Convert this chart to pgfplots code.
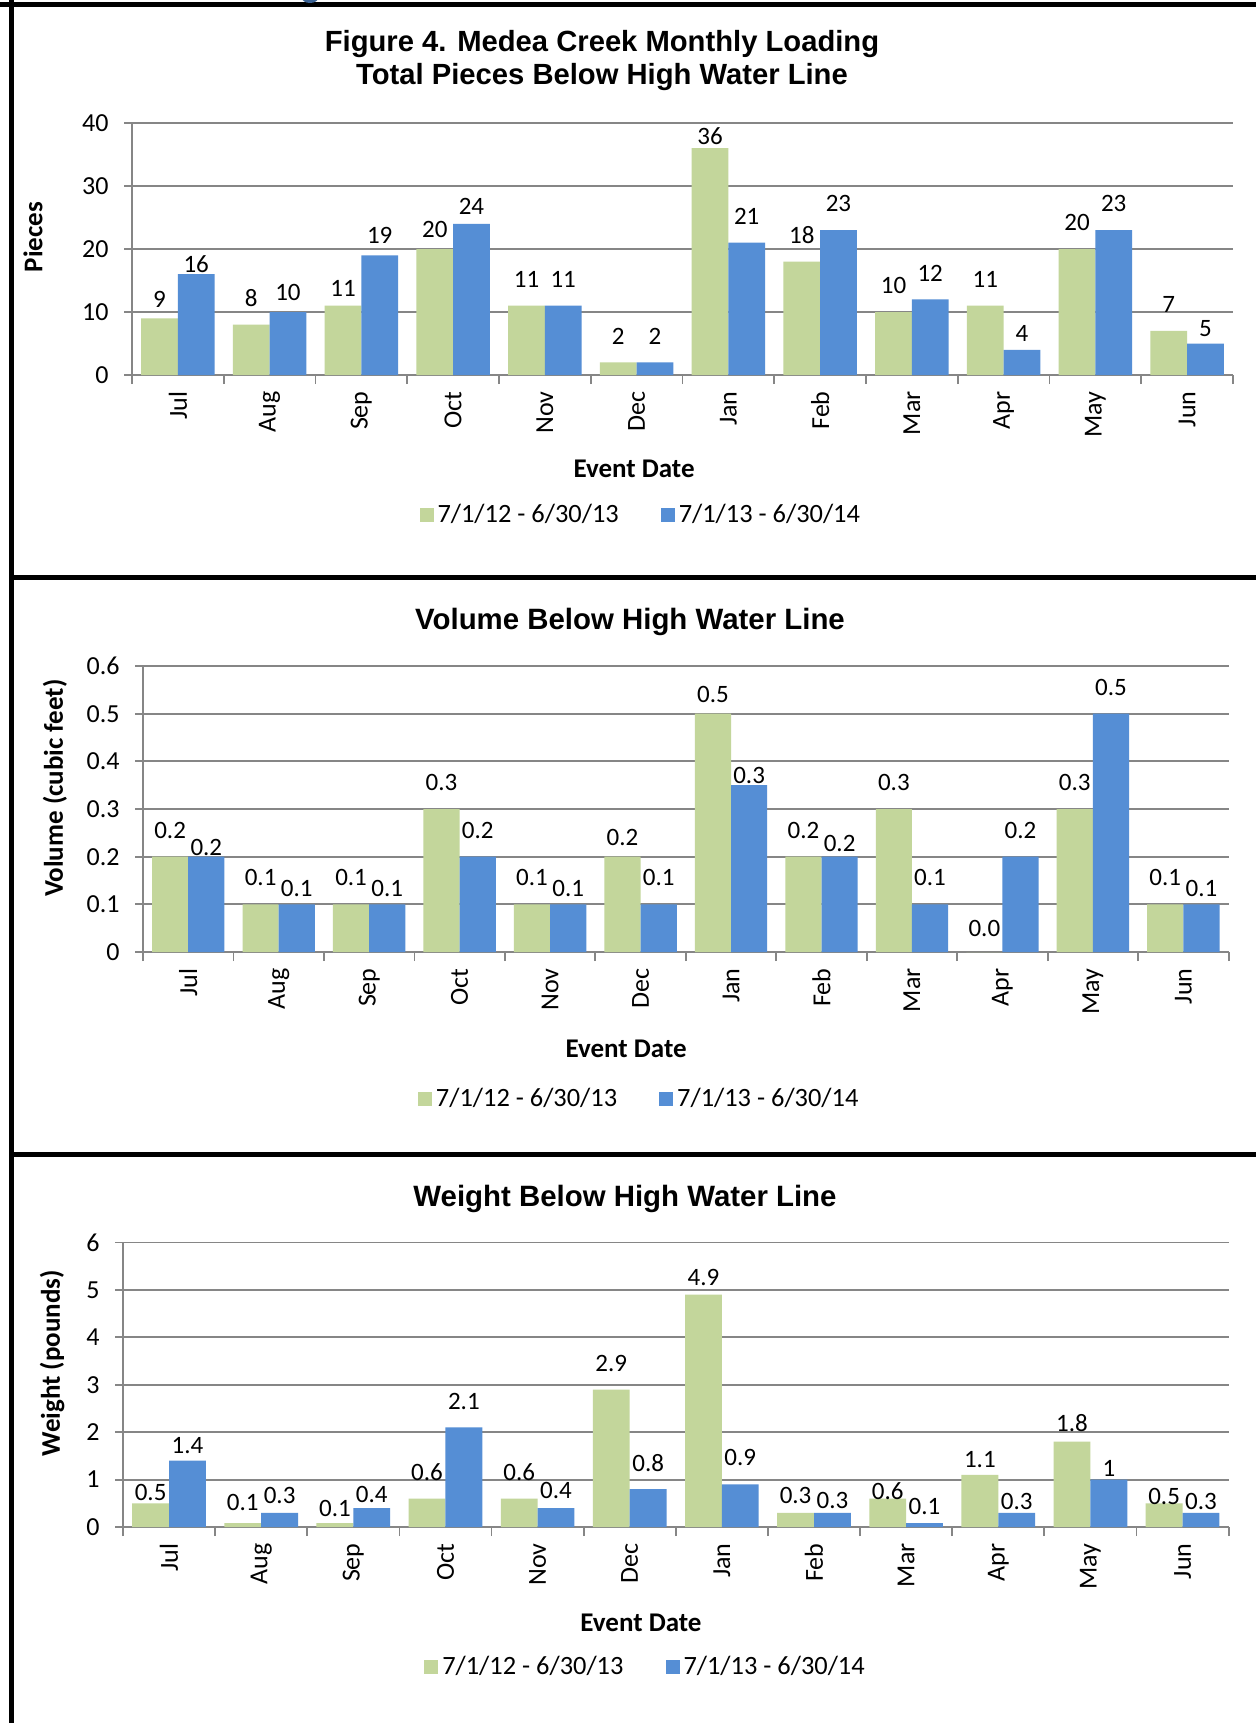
\documentclass[border=0pt]{standalone}
\usepackage{pgfplots}
\pgfplotsset{compat=1.18}
\usepackage{pgfplotstable}
\usepackage{fontspec}
\setmainfont{Carlito}
\newfontfamily\arialfont{Liberation Sans}
\definecolor{cgreen}{RGB}{195,214,155}
\definecolor{cblue}{RGB}{85,142,213}
\definecolor{cgrid}{RGB}{134,134,134}

% x  green  greenlabel  greendy  blue  bluelabel  bluedy   (dy: downward label shift)
\pgfplotstableread{
x g gl gdy b bl bdy
0 9 9 6.5 16 16 14.6
1 8 8 0 10 10 6
2 11 11 8 19 19 6
3 20 20 6.5 24 24 8.4
4 11 11 0 11 11 0
5 2 2 0 2 2 0
6 36 36 13 21 21 0
7 18 18 0 23 23 0
8 10 10 0 12 12 0
9 11 11 0 4 4 9
10 20 20 0 23 23 0
11 7 7 0 5 5 10
}\piecesdata

\pgfplotstableread{
x g gl gdy b bl bdy
0 0.2 0.2 0 0.2 0.2 16
1 0.1 0.1 0 0.1 0.1 10
2 0.1 0.1 0 0.1 0.1 10
3 0.3 0.3 0 0.2 0.2 0
4 0.1 0.1 0 0.1 0.1 10
5 0.2 0.2 7 0.1 0.1 0
6 0.5 0.5 7 0.35 0.3 15
7 0.2 0.2 0 0.2 0.2 12
8 0.3 0.3 0 0.1 0.1 0
9 0.0 0.0 3 0.2 0.2 0
10 0.3 0.3 0 0.5 0.5 0
11 0.1 0.1 0 0.1 0.1 10
}\voldata

\pgfplotstableread{
x g gl gdy b bl bdy
0 0.5 0.5 14 1.4 1.4 10
1 0.08 0.1 5.5 0.3 0.3 8
2 0.08 0.1 10.5 0.4 0.4 12
3 0.6 0.6 0 2.1 2.1 0
4 0.6 0.6 0 0.4 0.4 8
5 2.9 2.9 0 0.8 0.8 0
6 4.9 4.9 8 0.9 0.9 0
7 0.3 0.3 8 0.3 0.3 13
8 0.6 0.6 17 0.08 0.1 8.5
9 1.1 1.1 10 0.3 0.3 14
10 1.8 1.8 7 1.0 1 14
11 0.5 0.5 18 0.3 0.3 14
}\weightdata

\pgfplotsset{
  mybar/.style={
    scale only axis, ybar, bar width=0.4,
    xmin=-0.5, xmax=11.5, ymin=0, enlargelimits=false,
    axis x line*=bottom, axis y line*=left,
    axis line style={cgrid, line width=0.9pt},
    ymajorgrids, major grid style={cgrid, line width=0.9pt},
    xtick={0,...,11},
    xticklabels={Jul,Aug,Sep,Oct,Nov,Dec,Jan,Feb,Mar,Apr,May,Jun},
    minor xtick={-0.5,0.5,...,11.5},
    major x tick style={draw=none},
    minor x tick style={cgrid, line width=0.9pt},
    ytick style={cgrid, line width=0.9pt},
    tick align=outside, major tick length=4pt, minor tick length=4.5pt,
    tick label style={font=\fontsize{13}{15}\selectfont},
    xticklabel style={rotate=90, anchor=east, inner sep=0pt},
    yticklabel style={anchor=east, inner sep=0pt},
    xticklabel shift=4pt,
    yticklabel shift=7.5pt,
    /pgf/number format/assume math mode=true,
    legend columns=2,
    legend cell align=left,
    legend style={draw=none, fill=none, font=\fontsize{13.2}{15}\selectfont,
      anchor=center, /tikz/every even column/.append style={column sep=19pt}},
    every axis x label/.style={font=\bfseries\fontsize{13.5}{15}\selectfont, anchor=center},
    every axis y label/.style={font=\bfseries\fontsize{13.5}{15}\selectfont, anchor=center, rotate=90},
    nodes near coords, point meta=explicit symbolic,
    every node near coord/.append style={anchor=center, yshift={13.2pt-0.549pt*\dy},
      font=\fontsize{12.5}{14}\selectfont, inner sep=0pt, text=black},
  },
  gser/.style={fill=cgreen, draw=none, bar shift=-0.2,
    legend image code/.code={\fill[cgreen] (0pt,-3.5pt) rectangle (7pt,3.5pt);}},
  bser/.style={fill=cblue, draw=none, bar shift=0.2,
    legend image code/.code={\fill[cblue] (0pt,-3.5pt) rectangle (7pt,3.5pt);}},
}

\begin{document}
\begin{tikzpicture}
\begin{scope}[x=0.5pt,y=-0.5pt]
  \fill[white] (0,0) rectangle (1256,1723);
  \draw[line width=2.5pt] (0,5) -- (1256,5);
  \draw[line width=2.5pt] (11.5,0) -- (11.5,1723);
  \draw[line width=2.5pt] (11.5,577) -- (1256,577);
  \draw[line width=2.5pt] (11.5,1154) -- (1256,1154);
  \fill[cblue!70!black] (310,-2) ellipse (8 and 5);
  \node[font=\arialfont\bfseries\fontsize{14.6}{16.5}\selectfont, align=center] at (602,60.5)
    {Figure 4. Medea Creek Monthly Loading\\Total Pieces Below High Water Line};
  \node[font=\arialfont\bfseries\fontsize{14.7}{16.5}\selectfont] at (630,622)
    {Volume Below High Water Line};
  \node[font=\arialfont\bfseries\fontsize{14.7}{16.5}\selectfont] at (625,1199)
    {Weight Below High Water Line};
  \coordinate (A1) at (132,375);
  \coordinate (A2) at (143,952);
  \coordinate (A3) at (123,1527);
\end{scope}

\begin{axis}[mybar, at={(A1)}, anchor=south west, width=550.5pt, height=126pt,
  ymax=40, ytick={0,10,20,30,40}, yticklabels={0,10,20,30,40},
  ylabel={Pieces}, ylabel style={at={(axis description cs:-0.0899,0.548)}},
  xlabel={Event Date}, xlabel style={at={(axis description cs:0.456,-0.373)}},
  legend style={at={(axis description cs:0.463,-0.556)}}]
\addplot[gser, visualization depends on={\thisrow{gdy}\as\dy}] table[x=x,y=g,meta=gl] {\piecesdata};
\addplot[bser, visualization depends on={\thisrow{bdy}\as\dy}] table[x=x,y=b,meta=bl] {\piecesdata};
\legend{7/1/12 - 6/30/13, 7/1/13 - 6/30/14}
\end{axis}

\begin{axis}[mybar, at={(A2)}, anchor=south west, width=542.8pt, height=143pt,
  ymax=0.6, ytick={0,0.1,0.2,0.3,0.4,0.5,0.6}, yticklabels={0,0.1,0.2,0.3,0.4,0.5,0.6},
  ylabel={Volume (cubic feet)}, ylabel style={at={(axis description cs:-0.0811,0.573)}},
  xlabel={Event Date}, xlabel style={at={(axis description cs:0.445,-0.339)}},
  legend style={at={(axis description cs:0.458,-0.514)}}]
\addplot[gser, visualization depends on={\thisrow{gdy}\as\dy}] table[x=x,y=g,meta=gl] {\voldata};
\addplot[bser, visualization depends on={\thisrow{bdy}\as\dy}] table[x=x,y=b,meta=bl] {\voldata};
\legend{7/1/12 - 6/30/13, 7/1/13 - 6/30/14}
\end{axis}

\begin{axis}[mybar, at={(A3)}, anchor=south west, width=552.8pt, height=142.25pt,
  ymax=6, ytick={0,1,2,3,4,5,6}, yticklabels={0,1,2,3,4,5,6},
  ylabel={Weight (pounds)}, ylabel style={at={(axis description cs:-0.0642,0.576)}},
  xlabel={Event Date}, xlabel style={at={(axis description cs:0.4685,-0.3374)}},
  legend style={at={(axis description cs:0.4735,-0.492)}}]
\addplot[gser, visualization depends on={\thisrow{gdy}\as\dy}] table[x=x,y=g,meta=gl] {\weightdata};
\addplot[bser, visualization depends on={\thisrow{bdy}\as\dy}] table[x=x,y=b,meta=bl] {\weightdata};
\legend{7/1/12 - 6/30/13, 7/1/13 - 6/30/14}
\end{axis}

\pgfresetboundingbox
\path[use as bounding box] (0,0) rectangle (628pt,-861.5pt);
\end{tikzpicture}
\end{document}
